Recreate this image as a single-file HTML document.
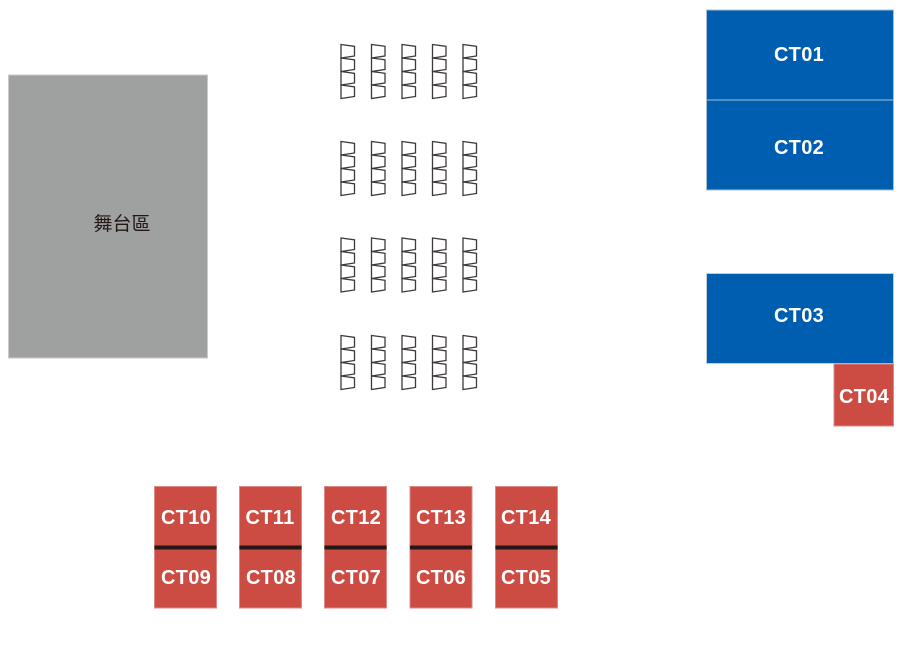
<!DOCTYPE html>
<html>
<head>
<meta charset="utf-8">
<style>
html,body{margin:0;padding:0;background:#fff;}
body{width:900px;height:650px;overflow:hidden;}
svg{display:block;}
.lbl{font-family:"Liberation Sans",sans-serif;font-weight:bold;font-size:20px;fill:#fff;letter-spacing:0.3px;}
.stage{font-family:"Liberation Sans","Noto Sans CJK TC",sans-serif;font-size:19px;fill:#231815;}
.chair{fill:none;stroke:#3e3a39;stroke-width:1.3;}
</style>
</head>
<body>
<svg width="900" height="650" viewBox="0 0 900 650" xmlns="http://www.w3.org/2000/svg">
  <!-- Stage -->
  <rect x="8.5" y="75" width="199" height="283" fill="#9fa0a0" stroke="#c9caca" stroke-width="1"/>
  <text class="stage" x="122" y="230" text-anchor="middle">舞台區</text>

  <!-- Blue booths -->
  <rect x="706.5" y="10" width="187" height="90" fill="#005eb0" stroke="#a9bfd6" stroke-width="1"/>
  <rect x="706.5" y="100" width="187" height="90" fill="#005eb0" stroke="#a9bfd6" stroke-width="1"/>
  <text class="lbl" x="799" y="61" text-anchor="middle">CT01</text>
  <text class="lbl" x="799" y="154" text-anchor="middle">CT02</text>

  <rect x="706.5" y="273.5" width="187" height="90" fill="#005eb0" stroke="#c2ccd6" stroke-width="1"/>
  <text class="lbl" x="799" y="322" text-anchor="middle">CT03</text>

  <!-- CT04 -->
  <rect x="834" y="364" width="59.5" height="62" fill="#cc4b43" stroke="#dd8a84" stroke-width="1"/>
  <text class="lbl" x="864" y="403" text-anchor="middle">CT04</text>

  <!-- Bottom red booths -->
  <g>
    <rect x="154.5" y="486.5" width="62" height="121.5" fill="#cc4b43" stroke="#dd8a84" stroke-width="1"/>
    <rect x="154.5" y="545.5" width="62" height="4" fill="#231815"/>
    <text class="lbl" x="186" y="524" text-anchor="middle">CT10</text>
    <text class="lbl" x="186" y="584" text-anchor="middle">CT09</text>

    <rect x="239.5" y="486.5" width="62" height="121.5" fill="#cc4b43" stroke="#dd8a84" stroke-width="1"/>
    <rect x="239.5" y="545.5" width="62" height="4" fill="#231815"/>
    <text class="lbl" x="270" y="524" text-anchor="middle">CT11</text>
    <text class="lbl" x="271" y="584" text-anchor="middle">CT08</text>

    <rect x="324.5" y="486.5" width="62" height="121.5" fill="#cc4b43" stroke="#dd8a84" stroke-width="1"/>
    <rect x="324.5" y="545.5" width="62" height="4" fill="#231815"/>
    <text class="lbl" x="356" y="524" text-anchor="middle">CT12</text>
    <text class="lbl" x="356" y="584" text-anchor="middle">CT07</text>

    <rect x="410" y="486.5" width="62" height="121.5" fill="#cc4b43" stroke="#dd8a84" stroke-width="1"/>
    <rect x="410" y="545.5" width="62" height="4" fill="#231815"/>
    <text class="lbl" x="441" y="524" text-anchor="middle">CT13</text>
    <text class="lbl" x="441" y="584" text-anchor="middle">CT06</text>

    <rect x="495.5" y="486.5" width="62" height="121.5" fill="#cc4b43" stroke="#dd8a84" stroke-width="1"/>
    <rect x="495.5" y="545.5" width="62" height="4" fill="#231815"/>
    <text class="lbl" x="526" y="524" text-anchor="middle">CT14</text>
    <text class="lbl" x="526" y="584" text-anchor="middle">CT05</text>
  </g>

  <!-- Chairs -->
  <defs>
    <g id="col">
      <polygon class="chair" points="0,0 13.5,1.8 13.5,11.5 0,13.5"/>
      <polygon class="chair" points="0,13.5 13.5,15.3 13.5,25 0,27"/>
      <polygon class="chair" points="0,27 13.5,28.8 13.5,38.5 0,40.5"/>
      <polygon class="chair" points="0,40.5 13.5,42.3 13.5,52 0,54"/>
    </g>
    <g id="row">
      <use href="#col" x="0" y="0"/>
      <use href="#col" x="30.5" y="0"/>
      <use href="#col" x="61" y="0"/>
      <use href="#col" x="91.5" y="0"/>
      <use href="#col" x="122" y="0"/>
    </g>
  </defs>
  <use href="#row" x="341" y="44.5"/>
  <use href="#row" x="341" y="141.5"/>
  <use href="#row" x="341" y="238"/>
  <use href="#row" x="341" y="335.5"/>
</svg>
</body>
</html>
